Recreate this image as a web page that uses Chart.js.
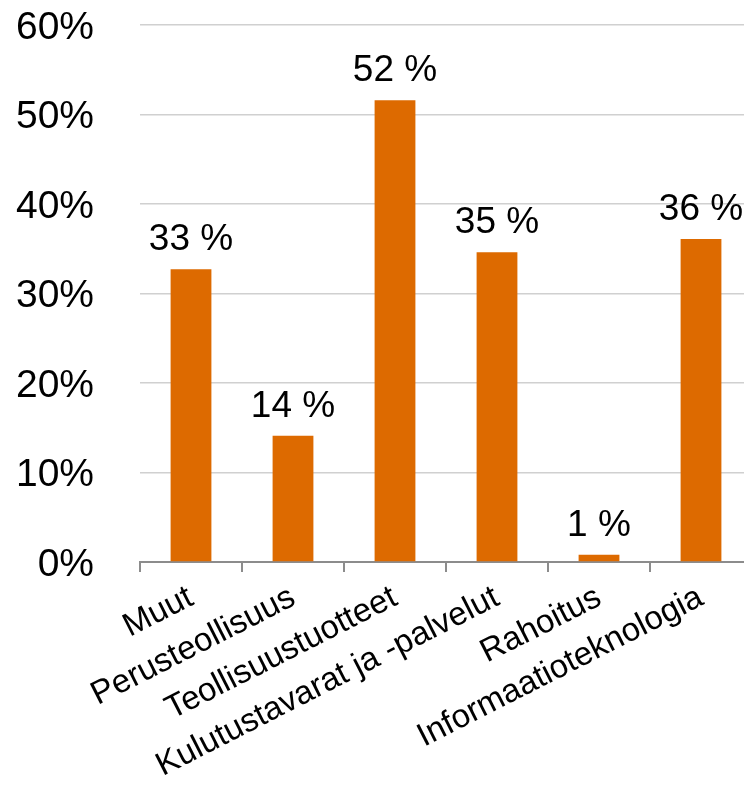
<!DOCTYPE html>
<html>
<head>
<meta charset="utf-8">
<script src="https://cdn.jsdelivr.net/npm/chart.js@4/dist/chart.umd.min.js"></script>
<style>
  html, body { margin: 0; padding: 0; background: #fff; overflow: hidden; }
  #wrap { width: 752px; height: 785px; }
</style>
</head>
<body>
<div id="wrap"><canvas id="chart" width="752" height="785"></canvas></div>
<script>
const categories = ['Muut', 'Perusteollisuus', 'Teollisuustuotteet', 'Kulutustavarat ja -palvelut', 'Rahoitus', 'Informaatioteknologia'];
const shares = [32.7, 14.1, 51.6, 34.6, 0.8, 36.1];
const shareLabels = ['33 %', '14 %', '52 %', '35 %', '1 %', '36 %'];

const FONT = "'Liberation Sans', Arial, sans-serif";

// draws the value above each bar
const barLabels = {
  id: 'barLabels',
  afterDatasetsDraw(chart) {
    const ctx = chart.ctx;
    const meta = chart.getDatasetMeta(0);
    ctx.save();
    ctx.font = '37px ' + FONT;
    ctx.fillStyle = '#000';
    ctx.textAlign = 'center';
    ctx.textBaseline = 'alphabetic';
    meta.data.forEach((bar, i) => {
      ctx.fillText(shareLabels[i], bar.x, bar.y - 19);
    });
    ctx.restore();
  }
};

new Chart(document.getElementById('chart'), {
  type: 'bar',
  data: {
    labels: categories,
    datasets: [{
      data: shares,
      backgroundColor: '#dd6a00',
      barPercentage: 0.4,
      categoryPercentage: 1.0
    }]
  },
  options: {
    responsive: false,
    animation: false,
    layout: { padding: 0 },
    plugins: { legend: { display: false }, tooltip: { enabled: false } },
    scales: {
      x: {
        afterFit: s => { s.height = 223; },
        border: { display: true, color: '#8c8c8c', width: 2 },
        grid: { offset: true, drawOnChartArea: false, drawTicks: true, tickLength: 10, color: '#8c8c8c', lineWidth: 2 },
        ticks: {
          color: '#000',
          font: { family: FONT, size: 33 },
          minRotation: 27,
          maxRotation: 27,
          autoSkip: false,
          padding: 6
        }
      },
      y: {
        min: 0,
        max: 60,
        // fixed axis width; the big tick padding should not push the plot down
        afterFit: s => { s.width = 140; s.paddingTop = 25; s.paddingBottom = 0; },
        border: { display: false },
        grid: { color: '#d0d0d0', lineWidth: 1.5, drawTicks: false },
        ticks: {
          stepSize: 10,
          color: '#000',
          padding: 46,
          labelOffset: 3,
          font: { family: FONT, size: 39 },
          callback: v => v + '%'
        }
      }
    }
  },
  plugins: [barLabels]
});
</script>
</body>
</html>
